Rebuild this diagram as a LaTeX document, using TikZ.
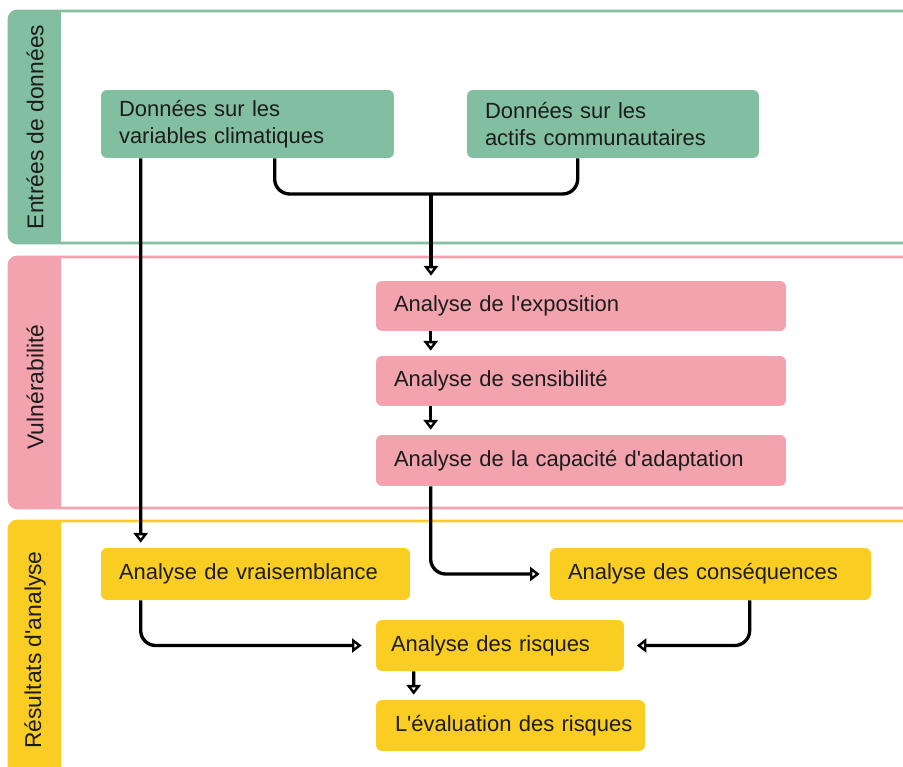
\documentclass[tikz,border=0pt]{standalone}
\usepackage{fontspec}
\setmainfont{Liberation Sans}
\usetikzlibrary{arrows.meta,calc}
\definecolor{riskgreen}{RGB}{130,191,160}
\definecolor{riskpink}{RGB}{242,163,174}
\definecolor{riskyellow}{RGB}{250,205,35}
\definecolor{riskink}{RGB}{28,28,28}

\begin{document}
\begin{tikzpicture}[x=0.02cm, y=-0.02cm,
    stage/.style={rounded corners=0.12cm, align=left, inner xsep=0.36cm, inner ysep=0pt,
        text=riskink, font=\fontsize{12.5}{15.3}\selectfont},
    link/.style={line width=1.9pt, rounded corners=0.3cm, shorten >=0.1cm,
        -{Triangle[open, length=5.5pt, width=8pt]}},
    merge/.style={line width=1.9pt, rounded corners=0.3cm},
    bandlabel/.style={rotate=90, text=riskink, font=\fontsize{13}{15}\selectfont}]
    \useasboundingbox (0,0) rectangle (903,767);
    \clip (0,0) rectangle (903,767);

    % bands
    \draw[riskgreen, line width=1.5pt, rounded corners=0.16cm] (9,11) rectangle (960,243);
    \fill[riskgreen, rounded corners=0.16cm] (9,11) rectangle (61,243);
    \fill[riskgreen] (40,11) rectangle (61,243);
    \draw[riskpink, line width=1.5pt, rounded corners=0.16cm] (9,257) rectangle (960,508);
    \fill[riskpink, rounded corners=0.16cm] (9,257) rectangle (61,508);
    \fill[riskpink] (40,257) rectangle (61,508);
    \draw[riskyellow, line width=1.5pt, rounded corners=0.16cm] (9,521) rectangle (960,820);
    \fill[riskyellow, rounded corners=0.16cm] (9,521) rectangle (61,820);
    \fill[riskyellow] (40,521) rectangle (61,820);

    \node[bandlabel] (lblin) at (35,127) {Entrées de données};
    \node[bandlabel] (lblvul) at (35,387) {Vulnérabilité};
    \node[bandlabel] (lblres) at (35,650) {Résultats d\textquotesingle analyse};

    % inputs
    \node[stage, fill=riskgreen, text width=5.14cm, minimum height=1.36cm] (clim) at (247.5,124)
        {Données sur les\\variables climatiques};
    \node[stage, fill=riskgreen, text width=5.12cm, minimum height=1.36cm] (actifs) at (613,124)
        {Données sur les\\actifs communautaires};

    % vulnerability
    \node[stage, fill=riskpink, text width=7.48cm, minimum height=1cm] (expo) at (581,306)
        {Analyse de l\textquotesingle exposition};
    \node[stage, fill=riskpink, text width=7.48cm, minimum height=1cm] (sens) at (581,381)
        {Analyse de sensibilité};
    \node[stage, fill=riskpink, text width=7.48cm, minimum height=1.02cm] (capa) at (581,460.5)
        {Analyse de la capacité d\textquotesingle adaptation};

    % results
    \node[stage, fill=riskyellow, text width=5.46cm, minimum height=1.04cm] (vrais) at (255.5,574)
        {Analyse de vraisemblance};
    \node[stage, fill=riskyellow, text width=5.7cm, minimum height=1.04cm] (conseq) at (710.5,574)
        {Analyse des conséquences};
    \node[stage, fill=riskyellow, inner xsep=0.3cm, text width=4.36cm, minimum height=1.02cm] (risques) at (500,645.5)
        {Analyse des risques};
    \node[stage, fill=riskyellow, inner xsep=0.22cm, text width=4.94cm, minimum height=1.02cm] (eval) at (510.5,725.5)
        {\hspace{0.16cm}L\textquotesingle évaluation des risques};

    % connectors
    \coordinate (fork) at (431,194);
    \draw[merge] ($(clim.south west)+(174,0)$) |- (fork);
    \draw[merge] ($(actifs.south west)+(111,0)$) |- (fork);
    \draw[link] (fork) -- (fork |- expo.north);
    \draw[link] ($(clim.south west)+(40,0)$) -- ($(vrais.north west)+(40,0)$);
    \draw[link] ($(expo.south west)+(55,0)$) -- ($(sens.north west)+(55,0)$);
    \draw[link] ($(sens.south west)+(55,0)$) -- ($(capa.north west)+(55,0)$);
    \draw[link, shorten >=0.2cm] ($(capa.south west)+(55,0)$) |- (conseq.west);
    \draw[link, shorten >=0.28cm] ($(vrais.south west)+(40,0)$) |- (risques.west);
    \draw[link, shorten >=0.25cm] ($(conseq.south west)+(200,0)$) |- (risques.east);
    \draw[link] ($(risques.south west)+(38,0)$) -- ($(eval.north west)+(38,0)$);
\end{tikzpicture}
\end{document}
